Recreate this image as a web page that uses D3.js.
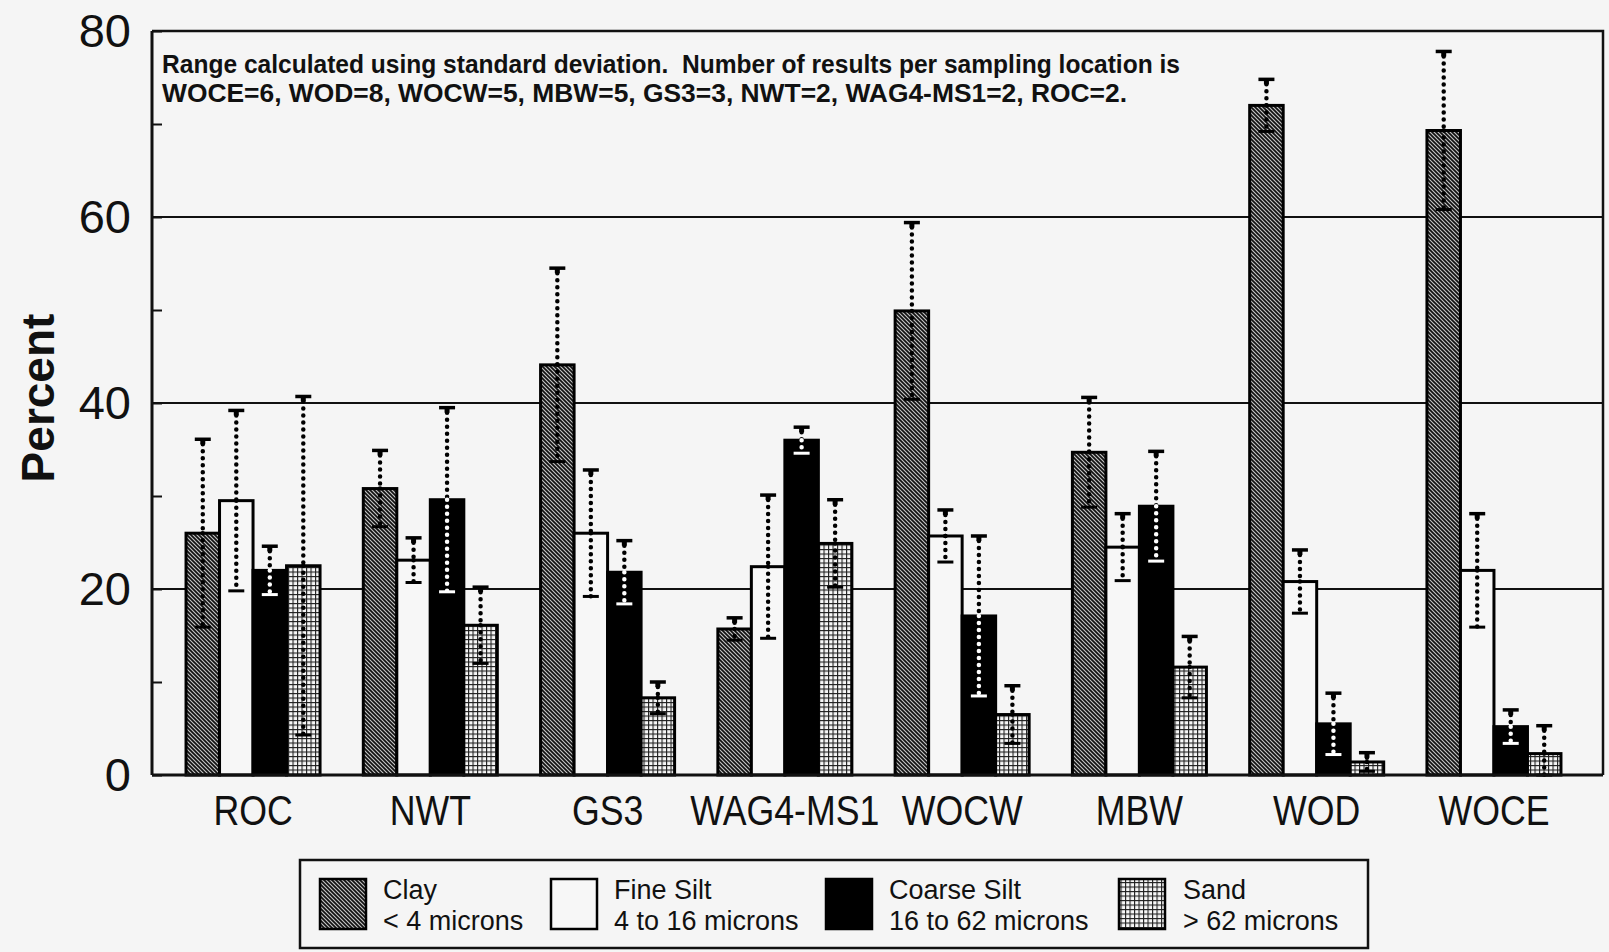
<!DOCTYPE html>
<html>
<head>
<meta charset="utf-8">
<script src="https://cdn.jsdelivr.net/npm/d3@7"></script>
<style>
  body { margin: 0; background: #f5f5f5; }
  svg { display: block; font-family: "Liberation Sans", Arial, Helvetica, sans-serif; }
</style>
</head>
<body>
<svg id="chart" width="1609" height="952"></svg>
<script>
// sampling locations and particle size fractions
var sites = ["ROC", "NWT", "GS3", "WAG4-MS1", "WOCW", "MBW", "WOD", "WOCE"];
var fractions = ["Clay", "Fine Silt", "Coarse Silt", "Sand"];
var sizeRanges = ["< 4 microns", "4 to 16 microns", "16 to 62 microns", "> 62 microns"];

// mean percent per site, and standard deviation
var clay         = [26.0, 30.8, 44.1, 15.7, 49.9, 34.7, 72.0, 69.3];
var claySd       = [10.1,  4.1, 10.4,  1.2,  9.5,  5.9,  2.8,  8.5];
var fineSilt     = [29.5, 23.1, 26.0, 22.4, 25.7, 24.5, 20.8, 22.0];
var fineSiltSd   = [ 9.7,  2.4,  6.8,  7.7,  2.8,  3.6,  3.4,  6.1];
var coarseSilt   = [22.0, 29.6, 21.8, 36.0, 17.1, 28.9,  5.5,  5.2];
var coarseSiltSd = [ 2.6,  9.9,  3.4,  1.4,  8.6,  5.9,  3.3,  1.8];
var sand         = [22.5, 16.1,  8.3, 24.9,  6.5, 11.6,  1.4,  2.3];
var sandSd       = [18.2,  4.1,  1.7,  4.7,  3.1,  3.3,  1.0,  3.0];

var yTicks = [0, 10, 20, 30, 40, 50, 60, 70, 80];
var gridTicks = [20, 40, 60];

var noteLines = [
  "Range calculated using standard deviation.  Number of results per sampling location is",
  "WOCE=6, WOD=8, WOCW=5, MBW=5, GS3=3, NWT=2, WAG4-MS1=2, ROC=2."
];

var means = [clay, fineSilt, coarseSilt, sand];
var sds = [claySd, fineSiltSd, coarseSiltSd, sandSd];

var svg = d3.select("#chart");
var defs = svg.append("defs");

// clay: dense dark diagonal hatch
var pc = defs.append("pattern").attr("id", "clayPat")
    .attr("patternUnits", "userSpaceOnUse").attr("width", 4).attr("height", 4);
pc.append("rect").attr("width", 4).attr("height", 4).attr("fill", "#c4c4c4");
pc.append("path").attr("d", "M0,0L4,4M-1,3L1,5M3,-1L5,1")
    .attr("stroke", "#111").attr("stroke-width", 1.7);

// sand: fine grid of dark lines
var ps = defs.append("pattern").attr("id", "sandPat")
    .attr("patternUnits", "userSpaceOnUse").attr("width", 4.5).attr("height", 4.5);
ps.append("rect").attr("width", 4.5).attr("height", 4.5).attr("fill", "#1e1e1e");
ps.append("rect").attr("x", 1.1).attr("y", 1.1).attr("width", 3.4).attr("height", 3.4).attr("fill", "#f7f7f7");

var fills = ["url(#clayPat)", "#f7f7f7", "#000", "url(#sandPat)"];

var left = 152, right = 1603;
var x0 = d3.scaleBand().domain(sites).range([164.4, 1582.6])
    .paddingInner(0.244).paddingOuter(0.122);
var x1 = d3.scaleBand().domain(d3.range(fractions.length)).range([0, x0.bandwidth()]);
var y = d3.scaleLinear().domain([0, 80]).range([775, 31]);

// gridlines
svg.append("g").selectAll("line")
    .data(gridTicks)
    .enter().append("line")
    .attr("x1", left).attr("x2", right)
    .attr("y1", function(d) { return y(d); })
    .attr("y2", function(d) { return y(d); })
    .attr("stroke", "#111").attr("stroke-width", 2);

// frame (top and right)
svg.append("path")
    .attr("d", "M" + left + "," + y(80) + "H" + right + "V" + y(0))
    .attr("fill", "none").attr("stroke", "#111").attr("stroke-width", 2.5);

// bars
var rows = [];
sites.forEach(function(s, i) {
  fractions.forEach(function(f, j) {
    rows.push({site: s, j: j, v: means[j][i], sd: sds[j][i]});
  });
});

svg.append("g").selectAll("rect")
    .data(rows)
    .enter().append("rect")
    .attr("x", function(d) { return x0(d.site) + x1(d.j); })
    .attr("width", x1.bandwidth())
    .attr("y", function(d) { return y(d.v); })
    .attr("height", function(d) { return y(0) - y(d.v); })
    .attr("fill", function(d) { return fills[d.j]; })
    .attr("stroke", "#000")
    .attr("stroke-width", 3);

// error bars (dotted, capped)
var err = svg.append("g");
rows.forEach(function(d) {
  var cx = x0(d.site) + x1(d.j) + x1.bandwidth() / 2;
  var hi = d.v + d.sd, lo = Math.max(d.v - d.sd, 0);
  var lowColor = d.j === 2 ? "#fff" : "#000";
  err.append("line")
      .attr("x1", cx).attr("x2", cx)
      .attr("y1", y(hi) + 5).attr("y2", y(d.v))
      .attr("stroke", "#000").attr("stroke-width", 4.5)
      .attr("stroke-linecap", "round").attr("stroke-dasharray", "0 7");
  err.append("line")
      .attr("x1", cx).attr("x2", cx)
      .attr("y1", y(d.v)).attr("y2", y(lo))
      .attr("stroke", lowColor).attr("stroke-width", 4.5)
      .attr("stroke-linecap", "round").attr("stroke-dasharray", "0 7");
  err.append("line")
      .attr("x1", cx - 8).attr("x2", cx + 8)
      .attr("y1", y(hi)).attr("y2", y(hi))
      .attr("stroke", "#000").attr("stroke-width", 3.5);
  err.append("rect")
      .attr("x", cx - 2.5).attr("y", y(hi)).attr("width", 5).attr("height", 5)
      .attr("fill", "#000");
  err.append("line")
      .attr("x1", cx - 8).attr("x2", cx + 8)
      .attr("y1", y(lo)).attr("y2", y(lo))
      .attr("stroke", lowColor).attr("stroke-width", 3);
});

// y axis
var yAxis = svg.append("g")
    .attr("transform", "translate(" + left + ",0)")
    .call(d3.axisLeft(y).tickValues(yTicks).tickSize(-10).tickPadding(21)
      .tickFormat(function(d) { return d % 20 ? "" : d; }));
yAxis.select(".domain").remove();
yAxis.selectAll(".tick line").attr("stroke", "#111").attr("stroke-width", 2);
yAxis.selectAll("text")
    .attr("font-size", 47)
    .attr("font-family", "'Liberation Sans', Arial, sans-serif")
    .attr("fill", "#111");
svg.append("line")
    .attr("x1", left).attr("x2", left).attr("y1", y(80)).attr("y2", y(0))
    .attr("stroke", "#111").attr("stroke-width", 3);

// x axis
svg.append("line")
    .attr("x1", left).attr("x2", right).attr("y1", y(0)).attr("y2", y(0))
    .attr("stroke", "#111").attr("stroke-width", 3);
var xAxis = svg.append("g")
    .attr("transform", "translate(0," + y(0) + ")")
    .call(d3.axisBottom(x0).tickSize(0).tickPadding(20));
xAxis.select(".domain").remove();
xAxis.selectAll("text")
    .attr("font-size", 42)
    .attr("font-family", "'Liberation Sans', Arial, sans-serif")
    .attr("fill", "#111")
    .attr("transform", "scale(0.85,1)");

// y title
svg.append("text")
    .attr("transform", "translate(38,398) rotate(-90)")
    .attr("text-anchor", "middle")
    .attr("dy", "0.35em")
    .attr("font-size", 46)
    .attr("font-weight", "bold")
    .attr("fill", "#111")
    .text("Percent");

// note inside the plot
var noteLen = [1018, 965];
noteLines.forEach(function(t, i) {
  svg.append("text")
      .attr("x", 162).attr("y", 73 + i * 29)
      .attr("font-size", 25)
      .attr("font-weight", "bold")
      .attr("fill", "#111")
      .attr("textLength", noteLen[i])
      .attr("lengthAdjust", "spacingAndGlyphs")
      .style("white-space", "pre")
      .text(t);
});

// legend
svg.append("rect")
    .attr("x", 300).attr("y", 860).attr("width", 1068).attr("height", 88)
    .attr("fill", "none").attr("stroke", "#111").attr("stroke-width", 2.5);
var swatchX = [320, 551, 826, 1119];
var labelX = [383, 614, 889, 1183];
fractions.forEach(function(f, j) {
  svg.append("rect")
      .attr("x", swatchX[j]).attr("y", 879).attr("width", 46).attr("height", 50)
      .attr("fill", fills[j]).attr("stroke", "#000").attr("stroke-width", 2.5);
  [f, sizeRanges[j]].forEach(function(t, k) {
    svg.append("text")
        .attr("x", labelX[j]).attr("y", 899 + k * 31)
        .attr("font-size", 27)
        .attr("fill", "#111")
        .text(t);
  });
});
</script>
</body>
</html>
